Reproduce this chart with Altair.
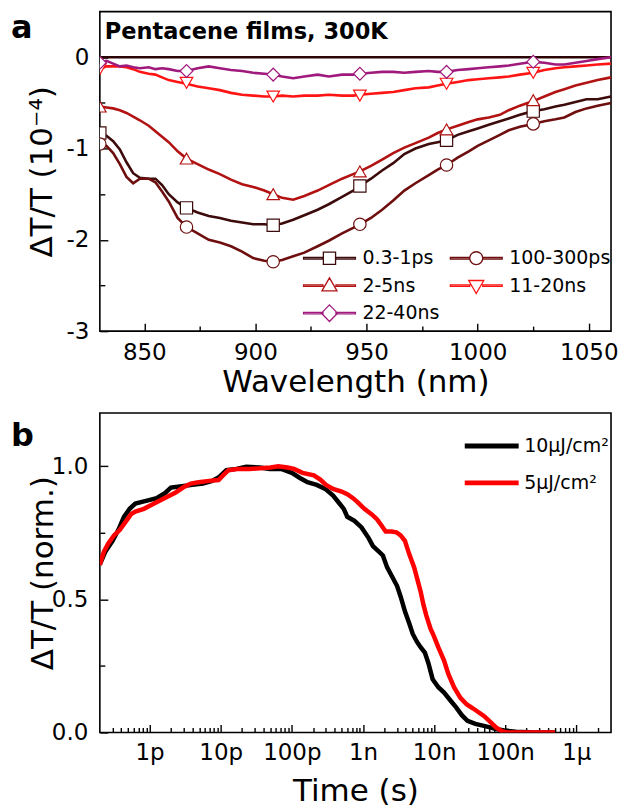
import altair as alt
import pandas as pd

FONT = "DejaVu Sans"

# ---------------- Panel a: transient spectra ----------------
WAVELENGTH = [830, 833, 836, 839, 842, 845, 848, 852, 855, 858,
              861, 865, 869, 874, 879, 884, 889, 894, 899, 904,
              908, 912, 917, 922, 928, 933, 939, 944, 947, 952,
              957, 962, 967, 972, 978, 982, 986, 991, 996, 1000,
              1005, 1010, 1014, 1019, 1025, 1030, 1035, 1039, 1044, 1049,
              1054, 1060]
SERIES_A = ["0.3-1ps", "100-300ps", "2-5ns", "11-20ns", "22-40ns"]
COLORS_A = ["#3d0b0b", "#6e0e0e", "#b21212", "#ff1414", "#a01a7d"]
SHAPES_A = ["square", "circle", "triangle-up", "triangle-down", "diamond"]
MARKER_SIZES = [150, 165, 190, 190, 230]

DT_03_1PS = [-0.83, -0.86, -0.92, -1.01, -1.15, -1.27, -1.32, -1.33, -1.33, -1.40,
             -1.50, -1.59, -1.65, -1.70, -1.74, -1.76, -1.79, -1.81, -1.83, -1.83,
             -1.84, -1.82, -1.78, -1.73, -1.67, -1.61, -1.53, -1.46, -1.41, -1.33,
             -1.24, -1.16, -1.06, -1.00, -0.95, -0.93, -0.91, -0.85, -0.81, -0.78,
             -0.74, -0.70, -0.67, -0.63, -0.59, -0.57, -0.54, -0.52, -0.49, -0.46,
             -0.46, -0.43]
DT_100_300PS = [-0.95, -0.97, -1.05, -1.17, -1.31, -1.38, -1.33, -1.33, -1.37, -1.47,
                -1.58, -1.76, -1.86, -1.93, -2.00, -2.03, -2.07, -2.13, -2.20, -2.23,
                -2.24, -2.22, -2.18, -2.14, -2.07, -2.01, -1.93, -1.87, -1.83, -1.76,
                -1.67, -1.57, -1.46, -1.38, -1.29, -1.23, -1.18, -1.10, -1.03, -0.97,
                -0.91, -0.85, -0.80, -0.76, -0.73, -0.70, -0.68, -0.66, -0.60, -0.56,
                -0.53, -0.50]
DT_2_5NS = [-0.54, -0.55, -0.56, -0.58, -0.61, -0.65, -0.69, -0.75, -0.81, -0.87,
            -0.93, -1.03, -1.11, -1.17, -1.23, -1.28, -1.34, -1.39, -1.42, -1.46,
            -1.50, -1.54, -1.56, -1.52, -1.46, -1.40, -1.33, -1.28, -1.25, -1.19,
            -1.12, -1.05, -0.99, -0.94, -0.88, -0.83, -0.79, -0.75, -0.71, -0.68,
            -0.66, -0.63, -0.58, -0.53, -0.48, -0.43, -0.38, -0.35, -0.31, -0.28,
            -0.25, -0.22]
DT_11_20NS = [-0.13, -0.10, -0.10, -0.10, -0.11, -0.13, -0.16, -0.18, -0.19, -0.22,
              -0.25, -0.27, -0.29, -0.32, -0.34, -0.36, -0.39, -0.41, -0.42, -0.43,
              -0.43, -0.42, -0.43, -0.42, -0.42, -0.41, -0.42, -0.42, -0.41, -0.40,
              -0.39, -0.38, -0.36, -0.34, -0.33, -0.31, -0.29, -0.27, -0.25, -0.24,
              -0.23, -0.22, -0.21, -0.19, -0.17, -0.14, -0.12, -0.11, -0.10, -0.09,
              -0.08, -0.07]
DT_22_40NS = [-0.06, -0.04, -0.07, -0.10, -0.09, -0.11, -0.12, -0.11, -0.13, -0.12,
              -0.13, -0.15, -0.15, -0.12, -0.10, -0.12, -0.14, -0.15, -0.17, -0.18,
              -0.19, -0.21, -0.23, -0.21, -0.19, -0.21, -0.19, -0.19, -0.18, -0.17,
              -0.16, -0.16, -0.17, -0.16, -0.15, -0.16, -0.16, -0.14, -0.13, -0.12,
              -0.11, -0.10, -0.09, -0.07, -0.05, -0.06, -0.08, -0.08, -0.06, -0.04,
              -0.02, 0.00]

MARKER_WL = [830, 869, 908, 947, 986, 1025]
MK_03_1PS = [-0.83, -1.65, -1.84, -1.41, -0.91, -0.59]
MK_100_300PS = [-0.95, -1.86, -2.24, -1.83, -1.18, -0.73]
MK_2_5NS = [-0.54, -1.11, -1.50, -1.25, -0.79, -0.47]
MK_11_20NS = [-0.13, -0.28, -0.43, -0.42, -0.29, -0.17]
MK_22_40NS = [-0.06, -0.15, -0.19, -0.18, -0.16, -0.05]

ZERO_WL = [830, 1060]
ZERO_DT = [0.0, 0.0]

WL_MAJOR = [850, 900, 950, 1000, 1050]
WL_MINOR = [875, 925, 975, 1025]
DTA_MAJOR = [0, -1, -2, -3]
DTA_MINOR = [-0.5, -1.5, -2.5]

# ---------------- Panel b: kinetics ----------------
SERIES_B = ["10\u03bcJ/cm\u00b2", "5\u03bcJ/cm\u00b2"]
COLORS_B = ["#000000", "#ff0000"]
LOGT_10UJ = [-12.70, -12.62, -12.52, -12.44, -12.36, -12.28, -12.20, -12.05, -11.90, -11.78,
             -11.70, -11.55, -11.40, -11.25, -11.12, -11.02, -10.92, -10.78, -10.64, -10.45,
             -10.31, -10.15, -10.00, -9.88, -9.78, -9.65, -9.53, -9.42, -9.33, -9.27,
             -9.22, -9.12, -9.02, -8.92, -8.86, -8.78, -8.72, -8.66, -8.58, -8.52,
             -8.47, -8.41, -8.35, -8.30, -8.24, -8.19, -8.13, -8.08, -8.02, -7.94,
             -7.86, -7.77, -7.69, -7.61, -7.53, -7.42, -7.30, -7.20, -7.13, -7.00,
             -6.85, -6.60, -6.30]
NORM_10UJ = [0.63, 0.68, 0.72, 0.76, 0.81, 0.84, 0.86, 0.87, 0.88, 0.90,
             0.92, 0.925, 0.93, 0.935, 0.945, 0.96, 0.985, 0.99, 0.998, 0.995,
             0.99, 0.99, 0.975, 0.955, 0.94, 0.93, 0.915, 0.89, 0.86, 0.84,
             0.81, 0.795, 0.77, 0.73, 0.70, 0.68, 0.665, 0.62, 0.58, 0.55,
             0.51, 0.455, 0.41, 0.37, 0.34, 0.32, 0.30, 0.26, 0.20, 0.17,
             0.15, 0.12, 0.094, 0.065, 0.044, 0.032, 0.025, 0.018, 0.013, 0.007,
             0.003, 0.0, 0.0]
LOGT_5UJ = [-12.70, -12.64, -12.58, -12.50, -12.42, -12.34, -12.26, -12.20, -12.08, -11.97,
            -11.86, -11.75, -11.64, -11.53, -11.42, -11.31, -11.16, -11.03, -10.95, -10.89,
            -10.75, -10.60, -10.45, -10.30, -10.19, -10.06, -9.97, -9.85, -9.69, -9.60,
            -9.52, -9.42, -9.30, -9.22, -9.14, -9.08, -8.98, -8.88, -8.80, -8.72,
            -8.68, -8.60, -8.53, -8.47, -8.41, -8.35, -8.28, -8.24, -8.19, -8.15,
            -8.11, -8.05, -8.00, -7.94, -7.86, -7.80, -7.72, -7.63, -7.54, -7.45,
            -7.37, -7.30, -7.21, -7.13, -7.05, -6.98, -6.60, -6.30]
NORM_5UJ = [0.63, 0.68, 0.71, 0.74, 0.76, 0.79, 0.82, 0.83, 0.84, 0.855,
            0.87, 0.885, 0.90, 0.92, 0.935, 0.94, 0.945, 0.948, 0.97, 0.985,
            0.99, 0.99, 0.992, 0.995, 1.0, 0.995, 0.99, 0.975, 0.966, 0.95,
            0.93, 0.915, 0.905, 0.895, 0.88, 0.866, 0.84, 0.82, 0.80, 0.77,
            0.755, 0.755, 0.752, 0.74, 0.72, 0.67, 0.62, 0.58, 0.53, 0.48,
            0.44, 0.39, 0.36, 0.32, 0.27, 0.22, 0.17, 0.13, 0.105, 0.09,
            0.075, 0.062, 0.04, 0.019, 0.005, 0.0, 0.0, 0.0]

T_MAJOR = [1e-12, 1e-11, 1e-10, 1e-9, 1e-8, 1e-7, 1e-6]
T_MINOR = [m * 10.0 ** e for e in range(-13, -5) for m in range(2, 10)
           if 2.05e-13 < m * 10.0 ** e < 3.0e-6]
NB_MAJOR = [0.0, 0.5, 1.0]
NB_MINOR = [0.25, 0.75]

# ---------------- tables ----------------
def long_table(xs_list, vals_list, names, xname, yname):
    rows = []
    for xs, vals, name in zip(xs_list, vals_list, names):
        for x, v in zip(xs, vals):
            rows.append({xname: x, yname: v, "series": name})
    return pd.DataFrame(rows)

dfA = long_table([WAVELENGTH] * 5,
                 [DT_03_1PS, DT_100_300PS, DT_2_5NS, DT_11_20NS, DT_22_40NS],
                 SERIES_A, "wl", "dt")
dfM = long_table([MARKER_WL] * 5,
                 [MK_03_1PS, MK_100_300PS, MK_2_5NS, MK_11_20NS, MK_22_40NS],
                 SERIES_A, "wl", "dt")
dfZ = pd.DataFrame({"wl": ZERO_WL, "dt": ZERO_DT})
dfB = long_table([[10.0 ** v for v in LOGT_10UJ], [10.0 ** v for v in LOGT_5UJ]],
                 [NORM_10UJ, NORM_5UJ], SERIES_B, "t", "n")

W, H = 512, 320
TICK_MAJ, TICK_MIN = 8, 5
LABEL_SIZE = 23
TITLE_SIZE = 31

xa = alt.Scale(domain=[830, 1060], nice=False, zero=False)
ya = alt.Scale(domain=[-3, 0.5], nice=False, zero=False)
col_a = alt.Scale(domain=SERIES_A, range=COLORS_A)
shp_a = alt.Scale(domain=SERIES_A, range=SHAPES_A)
siz_a = alt.Scale(domain=SERIES_A, range=MARKER_SIZES)

# legend glyph: a line with the series marker in its middle (unit box -1..1 = 52 px)
LINE = "M-1,-0.03H-0.25V0.03H-1Z M0.25,-0.03H1V0.03H0.25Z "
LEG_PATHS = [
    LINE + "M-0.235,-0.235H0.235V0.235H-0.235Z",
    LINE + "M0.25,0A0.25,0.25 0 1,1 -0.25,0A0.25,0.25 0 1,1 0.25,0Z",
    LINE + "M0,-0.3L0.29,0.2L-0.29,0.2Z",
    LINE + "M0,0.3L0.29,-0.2L-0.29,-0.2Z",
    LINE + "M0,-0.32L0.31,0L0,0.32L-0.31,0Z",
]
shp_leg = alt.Scale(domain=SERIES_A, range=LEG_PATHS)


def label_axis(orient, values, title, pad, expr=None, fmt=None, title_x=None, title_pad=None):
    kw = dict(orient=orient, values=values, ticks=False, domain=False, grid=False,
              labelFontSize=LABEL_SIZE, labelPadding=pad, labelColor="black",
              title=title, titleFontSize=TITLE_SIZE, titleFontWeight="normal",
              titleColor="black", labelFlush=False, labelOverlap=False)
    if expr is not None:
        kw["labelExpr"] = expr
    if fmt is not None:
        kw["format"] = fmt
    if title_x is not None:
        kw["titleX"] = title_x
        kw["titleBaseline"] = "alphabetic"
    if title_pad is not None:
        kw["titlePadding"] = title_pad
    return alt.Axis(**kw)


def tick_axis(orient, values, size):
    return alt.Axis(orient=orient, values=values, labels=False, domain=False, grid=False,
                    ticks=True, tickSize=size, offset=-size, tickColor="black",
                    tickWidth=1.4, title=None)


LEG_A = dict(orient="none", legendX=203, legendY=236, columns=2, direction="horizontal",
             clipHeight=22, rowPadding=5.5, columnPadding=9,
             labelOffset=6, labelFontSize=19, title=None, padding=0,
             symbolSize=2704, symbolStrokeWidth=1.3, symbolFillColor="white",
             labelColor="black")

# ---- panel a layers ----
zero_line = alt.Chart(dfZ).mark_line(color="#2b0505", strokeWidth=2.6, clip=True).encode(
    x=alt.X("wl:Q", scale=xa, axis=tick_axis("bottom", WL_MINOR, TICK_MIN)),
    y=alt.Y("dt:Q", scale=ya, axis=tick_axis("left", DTA_MINOR, TICK_MIN)),
)
lines_a = alt.Chart(dfA).mark_line(strokeWidth=2.6, clip=True).encode(
    x=alt.X("wl:Q", scale=xa,
            axis=label_axis("bottom", WL_MAJOR, "Wavelength (nm)", 10, fmt="d", title_pad=3)),
    y=alt.Y("dt:Q", scale=ya,
            axis=label_axis("left", DTA_MAJOR, "\u0394T/T (10\u207b\u2074)", 11,
                            expr="datum.value == 0 ? '0' : '-' + abs(datum.value)",
                            title_x=-48)),
    color=alt.Color("series:N", scale=col_a, legend=None),
    order=alt.Order("wl:Q"),
)
markers_a = alt.Chart(dfM).mark_point(filled=False, fill="white", strokeWidth=1.2,
                                      opacity=1, clip=True).encode(
    x=alt.X("wl:Q", scale=xa, axis=tick_axis("bottom", WL_MAJOR, TICK_MAJ)),
    y=alt.Y("dt:Q", scale=ya, axis=tick_axis("left", DTA_MAJOR, TICK_MAJ)),
    color=alt.Color("series:N", scale=col_a, legend=None),
    shape=alt.Shape("series:N", scale=shp_a, legend=None),
    size=alt.Size("series:N", scale=siz_a, legend=None),
)
legend_a = alt.Chart(dfM).transform_filter("false").mark_point(
    filled=False, fill="white", size=2704, strokeWidth=1.3, opacity=1).encode(
    x=alt.X("wl:Q", scale=xa, axis=None),
    y=alt.Y("dt:Q", scale=ya, axis=None),
    color=alt.Color("series:N", scale=col_a, legend=alt.Legend(**LEG_A)),
    shape=alt.Shape("series:N", scale=shp_leg, legend=alt.Legend(**LEG_A)),
)
title_a = alt.Chart(pd.DataFrame({"s": ["Pentacene films, 300K"]})).mark_text(
    align="left", baseline="alphabetic", fontSize=22.5, fontWeight="bold", color="black").encode(
    text="s:N", x=alt.value(5), y=alt.value(27))
tag_a = alt.Chart(pd.DataFrame({"s": ["a"]})).mark_text(
    align="left", baseline="alphabetic", fontSize=32, fontWeight="bold", color="black").encode(
    text="s:N", x=alt.value(-89), y=alt.value(26))

panel_a = alt.layer(zero_line, lines_a, markers_a, legend_a, title_a, tag_a).resolve_scale(
    color="independent", shape="independent", size="independent").resolve_axis(
    x="independent", y="independent").resolve_legend(
    color="independent", shape="independent").properties(width=W, height=H)

# ---- panel b layers ----
xb = alt.Scale(type="log", domain=[2.0e-13, 3.07e-6], nice=False)
yb = alt.Scale(domain=[0, 1.2], nice=False, zero=False)
col_b = alt.Scale(domain=SERIES_B, range=COLORS_B)

t_expr = "['1p','10p','100p','1n','10n','100n','1\u00b5'][round(log(datum.value)/LN10)+12]"
lines_b = alt.Chart(dfB).mark_line(strokeWidth=4.5, clip=True).encode(
    x=alt.X("t:Q", scale=xb,
            axis=label_axis("bottom", T_MAJOR, "Time (s)", 9, expr=t_expr, title_pad=12)),
    y=alt.Y("n:Q", scale=yb,
            axis=label_axis("left", NB_MAJOR, "\u0394T/T (norm.)", 12, fmt=".1f", title_x=-47)),
    color=alt.Color("series:N", scale=col_b,
                    legend=alt.Legend(orient="none", legendX=363, legendY=22, clipHeight=22,
                                      rowPadding=15, labelOffset=3, labelFontSize=19,
                                      title=None, padding=0, symbolType="stroke",
                                      symbolSize=2916, symbolStrokeWidth=5,
                                      labelColor="black")),
    order=alt.Order("t:Q"),
)
major_b = alt.Chart(dfB).transform_filter("false").mark_line().encode(
    x=alt.X("t:Q", scale=xb, axis=tick_axis("bottom", T_MAJOR, TICK_MAJ)),
    y=alt.Y("n:Q", scale=yb, axis=tick_axis("left", NB_MAJOR, TICK_MAJ)),
)
minor_b = alt.Chart(dfB).transform_filter("false").mark_line().encode(
    x=alt.X("t:Q", scale=xb, axis=tick_axis("bottom", T_MINOR, TICK_MIN)),
    y=alt.Y("n:Q", scale=yb, axis=tick_axis("left", NB_MINOR, TICK_MIN)),
)
tag_b = alt.Chart(pd.DataFrame({"s": ["b"]})).mark_text(
    align="left", baseline="alphabetic", fontSize=32, fontWeight="bold", color="black").encode(
    text="s:N", x=alt.value(-89), y=alt.value(33))

panel_b = alt.layer(lines_b, major_b, minor_b, tag_b).resolve_axis(
    x="independent", y="independent").properties(width=W, height=H)

chart = alt.vconcat(panel_a, panel_b, spacing=14).resolve_scale(
    color="independent", shape="independent", size="independent").resolve_legend(
    color="independent", shape="independent").properties(
    padding={"left": 10, "top": 10, "right": 2, "bottom": 0}
).configure_view(stroke="black", strokeWidth=1.6).configure_axis(
    labelFont=FONT, titleFont=FONT).configure_legend(labelFont=FONT).configure_text(font=FONT)

chart.save("out.html", embed_options={"renderer": "svg", "actions": False})
